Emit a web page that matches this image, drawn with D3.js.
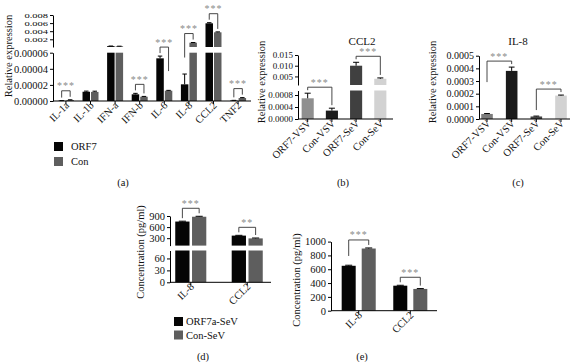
<!DOCTYPE html>
<html><head><meta charset="utf-8">
<script src="https://cdn.jsdelivr.net/npm/d3@7"></script>
<style>body{margin:0;background:#fff}svg{display:block}</style>
</head><body><svg id="chart" width="572" height="362"></svg>
<script>
// ---------- DATA ----------
// Panel (a)
const aCategories = ["IL-1a","IL-1b","IFN-a","IFN-b","IL-6","IL-8","CCL2","TNF2"];
const aSeries = ["ORF7","Con"];
const aORF7    = [0.0000003, 0.0000115, 0.00032, 0.0000083, 0.000053, 0.0000207, 0.00595, 0.0000006];
const aORF7Err = [0.0000002, 0.0000008, 0.00002, 0.0000012, 0.0000028, 0.0000128, 0.00015, 0.0000002];
const aCon     = [0.0000012, 0.0000113, 0.00028, 0.0000053, 0.0000128, 0.00116, 0.00373, 0.0000037];
const aConErr  = [0.0000003, 0.0000009, 0.00002, 0.0000004, 0.0000004, 0.00004, 0.0001, 0.0000005];
const aBottomTicks = [0, 0.00002, 0.00004, 0.00006];
const aTopTicks = [0.002, 0.004, 0.006, 0.008];
const aSig = ["***", "", "", "***", "***", "***", "***", "***"];

// Panel (b) CCL2
const bTitle = "CCL2";
const bCategories = ["ORF7-VSV","Con-VSV","ORF7-SeV","Con-SeV"];
const bValues = [0.00069, 0.00028, 0.0100, 0.0039];
const bErrors = [0.00017, 0.00008, 0.0016, 0.0004];
const bBottomTicks = [0, 0.0004, 0.0008];
const bTopTicks = [0.005, 0.010, 0.015];
const bSig = [[0, 1, "***"], [2, 3, "***"]];

// Panel (c) IL-8
const cTitle = "IL-8";
const cCategories = ["ORF7-VSV","Con-VSV","ORF7-SeV","Con-SeV"];
const cValues = [0.00004, 0.00038, 0.00002, 0.000185];
const cErrors = [0.000003, 0.00003, 0.000003, 0.000004];
const cTicks = [0, 0.0001, 0.0002, 0.0003, 0.0004, 0.0005];
const cSig = [[0, 1, "***"], [2, 3, "***"]];

// Panel (d)
const dCategories = ["IL-8","CCL2"];
const dSeries = ["ORF7a-SeV","Con-SeV"];
const dORF7a    = [750, 370];
const dORF7aErr = [10, 8];
const dCon      = [880, 295];
const dConErr   = [12, 10];
const dBottomTicks = [0, 30, 60];
const dTopTicks = [300, 600, 900];
const dSig = ["***", "**"];

// Panel (e)
const eCategories = ["IL-8","CCL2"];
const eORF7a    = [650, 362];
const eORF7aErr = [8, 6];
const eCon      = [900, 315];
const eConErr   = [8, 5];
const eTicks = [0, 200, 400, 600, 800, 1000];
const eSig = ["***", "***"];

// ---------- DRAWING ----------
const FONT = "'Liberation Serif','Times New Roman',serif";
const FS = 10.5;
const svg = d3.select("#chart");
svg.append("rect").attr("width",572).attr("height",362).attr("fill","#fff");

function styleAxis(sel, fs, squeeze){
  sel.selectAll("path.domain").attr("stroke","#000").attr("stroke-width",1);
  sel.selectAll(".tick line").attr("stroke","#000").attr("stroke-width",1);
  const t = sel.selectAll(".tick text").attr("font-family",FONT).attr("font-size",fs || FS).attr("fill","#111");
  if (squeeze) t.attr("transform", `scale(1,${squeeze})`);
}
function makeY(segs){
  const scales = segs.map(s => d3.scaleLinear().domain(s.domain).range(s.range));
  const y = v => {
    if (scales.length === 1 || v <= scales[0].domain()[1]) return scales[0](v);
    if (v < scales[1].domain()[0]) return scales[0].range()[1];
    return scales[1](v);
  };
  return {scales, y, segs};
}
function drawYAxis(g, axisX, Y, fs){
  Y.scales.forEach((s, i) => {
    const a = d3.axisLeft(s).tickValues(Y.segs[i].ticks).tickFormat(Y.segs[i].fmt)
      .tickSize(3).tickSizeOuter(0).tickPadding(2);
    g.append("g").attr("transform", `translate(${axisX},0)`).call(a)
      .call(sel => styleAxis(sel, Y.segs[i].fs || fs, Y.segs[i].squeeze));
  });
}
function drawBar(g, x, w, v, Y, fill){
  const s0 = Y.scales[0];
  const vb = Math.min(v, s0.domain()[1]);
  g.append("rect").attr("x", x).attr("y", s0(vb)).attr("width", w)
    .attr("height", s0(0) - s0(vb)).attr("fill", fill);
  if (Y.scales.length > 1 && v > Y.scales[1].domain()[0]) {
    const s1 = Y.scales[1];
    g.append("rect").attr("x", x).attr("y", s1(v)).attr("width", w)
      .attr("height", s1(s1.domain()[0]) - s1(v)).attr("fill", fill);
  }
}
function drawErr(g, cx, w, v, e, Y){
  if (!e) return;
  const y1 = Y.y(v), y2 = Y.y(v + e);
  g.append("line").attr("x1", cx).attr("x2", cx).attr("y1", y1).attr("y2", y2)
    .attr("stroke", "#000").attr("stroke-width", 1);
  g.append("line").attr("x1", cx - w / 2).attr("x2", cx + w / 2).attr("y1", y2).attr("y2", y2)
    .attr("stroke", "#000").attr("stroke-width", 1);
}
function drawBracket(g, x1, x2, top1, top2, label, gap, maxLeg){
  const by = Math.min(top1, top2) - gap;
  const l1 = Math.min(top1 - 3, by + maxLeg), l2 = Math.min(top2 - 3, by + maxLeg);
  g.append("path").attr("d", `M${x1},${l1}V${by}H${x2}V${l2}`)
    .attr("fill", "none").attr("stroke", "#333").attr("stroke-width", 0.9);
  g.append("text").attr("x", (x1 + x2) / 2).attr("y", by - 1.5).attr("text-anchor", "middle")
    .attr("font-family", FONT).attr("font-size", 10).attr("letter-spacing", 1)
    .attr("fill", "#8a8a8a").text(label);
}
function drawXAxis(g, x0, x1, baseY, centers, labels){
  g.append("line").attr("x1", x0).attr("x2", x1).attr("y1", baseY).attr("y2", baseY)
    .attr("stroke", "#000").attr("stroke-width", 1);
  centers.forEach((c, i) => {
    g.append("line").attr("x1", c).attr("x2", c).attr("y1", baseY).attr("y2", baseY + 3)
      .attr("stroke", "#000").attr("stroke-width", 1);
    g.append("text").attr("transform", `translate(${c + 4},${baseY + 5}) rotate(-45)`)
      .attr("text-anchor", "end").attr("font-family", FONT).attr("font-size", FS)
      .attr("fill", "#111").text(labels[i]);
  });
}
function yLabel(g, x, y, txt){
  g.append("text").attr("transform", `translate(${x},${y}) rotate(-90)`).attr("text-anchor", "middle")
    .attr("font-family", FONT).attr("font-size", FS).attr("fill", "#111").text(txt);
}
function plainText(g, x, y, txt, size, anchor){
  g.append("text").attr("x", x).attr("y", y).attr("text-anchor", anchor || "middle")
    .attr("font-family", FONT).attr("font-size", size || FS).attr("fill", "#111").text(txt);
}

const BLACK = "#050505", GRAY = "#5e5e5e";

// ----- Panel (a) -----
(function(){
  const g = svg.append("g");
  const axisX = 53;
  const Y = makeY([
    {domain: [0, 0.00006], range: [101, 52.7], ticks: aBottomTicks, fmt: d3.format(".5f")},
    {domain: [0.0001, 0.008], range: [47, 15], ticks: aTopTicks, fmt: d3.format(".3f"), squeeze: 0.64, fs: 10.5}
  ]);
  const x = d3.scaleBand().domain(aCategories).range([53, 251]).paddingInner(0.35).paddingOuter(0.2);
  const xs = d3.scaleBand().domain(aSeries).range([0, x.bandwidth()]).paddingInner(0.12);
  const colors = [BLACK, GRAY];
  const vals = [aORF7, aCon], errs = [aORF7Err, aConErr];
  aCategories.forEach((c, i) => {
    aSeries.forEach((s, j) => {
      const bx = x(c) + xs(s);
      drawBar(g, bx, xs.bandwidth(), vals[j][i], Y, colors[j]);
      drawErr(g, bx + xs.bandwidth() / 2, xs.bandwidth() * 0.6, vals[j][i], errs[j][i], Y);
    });
  });
  drawYAxis(g, axisX, Y);
  drawXAxis(g, 53, 251, 101, aCategories.map(c => x(c) + x.bandwidth() / 2), aCategories);
  aCategories.forEach((c, i) => {
    if (!aSig[i]) return;
    const c1 = x(c) + xs("ORF7") + xs.bandwidth() / 2, c2 = x(c) + xs("Con") + xs.bandwidth() / 2;
    drawBracket(g, c1, c2, Y.y(aORF7[i] + aORF7Err[i]), Y.y(aCon[i] + aConErr[i]), aSig[i], 9, 24);
  });
  yLabel(g, 12, 56, "Relative expression");
  aSeries.forEach((s, j) => {
    g.append("rect").attr("x", 54).attr("y", 142 + j * 15).attr("width", 9).attr("height", 9).attr("fill", colors[j]);
    plainText(g, 71, 150 + j * 15, s, FS, "start");
  });
  plainText(g, 123, 186, "(a)");
})();

// ----- Panels (b) and (c) -----
function simplePanel(opts){
  const g = svg.append("g");
  const Y = makeY(opts.segs);
  const x = d3.scaleBand().domain(opts.categories).range(opts.xRange).paddingInner(opts.pi).paddingOuter(opts.po);
  const baseY = opts.segs[0].range[0];
  opts.categories.forEach((c, i) => {
    drawBar(g, x(c), x.bandwidth(), opts.values[i], Y, opts.colors[i]);
    drawErr(g, x(c) + x.bandwidth() / 2, x.bandwidth() * 0.5, opts.values[i], opts.errors[i], Y);
  });
  drawYAxis(g, opts.xRange[0], Y, opts.tickFs);
  drawXAxis(g, opts.xRange[0], opts.axisEnd, baseY, opts.categories.map(c => x(c) + x.bandwidth() / 2), opts.categories);
  opts.sig.forEach(([i1, i2, lab]) => {
    const c1 = opts.categories[i1], c2 = opts.categories[i2];
    drawBracket(g, x(c1) + x.bandwidth() / 2, x(c2) + x.bandwidth() / 2,
      Y.y(opts.values[i1] + opts.errors[i1]), Y.y(opts.values[i2] + opts.errors[i2]), lab, 6, 21);
  });
  yLabel(g, opts.yLabelX, 82, "Relative expression");
  plainText(g, opts.titleX, 45, opts.title, 11);
  plainText(g, opts.tagX, 186, opts.tag);
}
simplePanel({
  categories: bCategories, values: bValues, errors: bErrors, sig: bSig,
  segs: [
    {domain: [0, 0.00095], range: [119, 90.5], ticks: bBottomTicks, fmt: d3.format(".4f")},
    {domain: [0.001, 0.015], range: [85, 55], ticks: bTopTicks, fmt: d3.format(".3f")}
  ],
  xRange: [298, 390], pi: 0.5, po: 0.15, axisEnd: 393, tickFs: 9,
  colors: ["#8f8f8f", "#1c1c1c", "#404040", "#d2d2d2"],
  yLabelX: 265, title: bTitle, titleX: 362, tag: "(b)", tagX: 343
});
simplePanel({
  categories: cCategories, values: cValues, errors: cErrors, sig: cSig,
  segs: [{domain: [0, 0.0005], range: [119, 55.7], ticks: cTicks, fmt: d3.format(".4f")}],
  xRange: [479, 569], pi: 0.53, po: 0.09, axisEnd: 570, tickFs: 10,
  colors: ["#7c7c7c", "#1a1a1a", "#444444", "#d2d2d2"],
  yLabelX: 436, title: cTitle, titleX: 518, tag: "(c)", tagX: 518
});

// ----- Panels (d) and (e) -----
function groupPanel(opts){
  const g = svg.append("g");
  const Y = makeY(opts.segs);
  const x = d3.scaleBand().domain(opts.categories).range(opts.xRange).paddingInner(opts.pi).paddingOuter(opts.po);
  const xs = d3.scaleBand().domain(dSeries).range([0, x.bandwidth()]).paddingInner(opts.spi);
  const colors = [BLACK, GRAY];
  const baseY = opts.segs[0].range[0];
  opts.categories.forEach((c, i) => {
    dSeries.forEach((s, j) => {
      const bx = x(c) + xs(s);
      drawBar(g, bx, xs.bandwidth(), opts.vals[j][i], Y, colors[j]);
      drawErr(g, bx + xs.bandwidth() / 2, xs.bandwidth() * 0.5, opts.vals[j][i], opts.errs[j][i], Y);
    });
  });
  drawYAxis(g, opts.xRange[0], Y);
  drawXAxis(g, opts.xRange[0], opts.axisEnd, baseY, opts.categories.map(c => x(c) + x.bandwidth() / 2), opts.categories);
  opts.categories.forEach((c, i) => {
    const c1 = x(c) + xs(dSeries[0]) + xs.bandwidth() / 2, c2 = x(c) + xs(dSeries[1]) + xs.bandwidth() / 2;
    drawBracket(g, c1, c2, Y.y(opts.vals[0][i] + opts.errs[0][i]), Y.y(opts.vals[1][i] + opts.errs[1][i]), opts.sig[i], 8, 16);
  });
  yLabel(g, opts.yLabelX, opts.yLabelY, "Concentration (pg/ml)");
  plainText(g, opts.tagX, 360, opts.tag);
  if (opts.legend) {
    dSeries.forEach((s, j) => {
      g.append("rect").attr("x", 174).attr("y", 317 + j * 13.5).attr("width", 9).attr("height", 9).attr("fill", colors[j]);
      plainText(g, 186, 325 + j * 13.5, s, FS, "start");
    });
  }
}
groupPanel({
  categories: dCategories, vals: [dORF7a, dCon], errs: [dORF7aErr, dConErr], sig: dSig,
  segs: [
    {domain: [0, 80], range: [282.3, 250.5], ticks: dBottomTicks, fmt: d3.format("d")},
    {domain: [100, 900], range: [245.6, 216], ticks: dTopTicks, fmt: d3.format("d")}
  ],
  xRange: [170, 268], pi: 0.45, po: 0.093, spi: 0.15, axisEnd: 271,
  yLabelX: 144, yLabelY: 252, tag: "(d)", tagX: 203, legend: true
});
groupPanel({
  categories: eCategories, vals: [eORF7a, eCon], errs: [eORF7aErr, eConErr], sig: eSig,
  segs: [{domain: [0, 1000], range: [310.7, 241.6], ticks: eTicks, fmt: d3.format("d")}],
  xRange: [331, 438], pi: 0.34, po: 0.207, spi: 0.3, axisEnd: 437,
  yLabelX: 300, yLabelY: 280, tag: "(e)", tagX: 362, legend: false
});
</script>
</body></html>
